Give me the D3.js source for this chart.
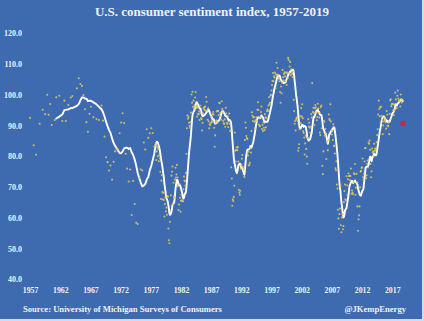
<!DOCTYPE html>
<html>
<head>
<meta charset="utf-8">
<script src="https://cdn.jsdelivr.net/npm/d3@7/dist/d3.min.js"></script>
<style>
  html, body { margin: 0; padding: 0; background: #d6dae2; }
  svg { display: block; }
  text { font-family: "Liberation Serif", "DejaVu Serif", serif; font-weight: bold; fill: #f1f1f1; }
</style>
</head>
<body>
<svg id="chart" width="424" height="321"></svg>
<script>
// University of Michigan index of consumer sentiment.
// Before 1978 the survey was run a few times a year; from 1978 it is monthly.
const surveyMonths1957_1977 = [
  "1957-04","1957-11","1958-04","1958-11","1959-05","1959-10","1960-02","1960-05","1960-08","1960-11",
  "1961-05","1961-08","1962-02","1962-08","1962-12","1963-03","1963-08","1964-01","1964-04",
  "1965-01","1965-05","1965-08","1965-11","1966-02","1966-05","1966-08","1966-11",
  "1967-02","1967-05","1967-10","1968-04","1968-09",
  "1969-02","1969-05","1969-08","1969-11","1970-02","1970-05","1970-08","1970-11",
  "1971-02","1971-05","1971-08","1971-11","1972-02","1972-05","1972-08","1972-11",
  "1973-02","1973-05","1973-08","1973-11","1974-02","1974-05","1974-08","1974-11",
  "1975-02","1975-05","1975-08","1975-11","1976-02","1976-05","1976-08","1976-11",
  "1977-02","1977-05","1977-08","1977-11"
];
const survey1957_1977 = [
  92.5, 83.6, 80.5, 90.6, 95.1, 93.7, 100.0, 93.5, 97.0, 90.2,
  91.8, 99.2, 99.7, 91.5, 98.1, 91.5, 96.7, 99.1, 99.6,
  102.1, 105.4, 103.5, 102.9, 99.9, 95.3, 91.1, 88.0,
  93.8, 96.1, 92.7, 92.1, 91.8,
  96.5, 91.6, 86.4, 79.7, 78.1, 75.4, 77.0, 72.4,
  78.2, 81.6, 82.4, 82.2, 87.5, 91.0, 94.0, 90.8,
  80.8, 76.0, 71.8, 75.7, 60.9, 72.0, 64.5, 58.4,
  58.0, 72.9, 75.8, 75.4, 84.5, 82.2, 88.8, 86.0,
  87.5, 89.1, 87.6, 83.1
];

// Monthly readings, January 1978 onwards
const monthlyStart = "1978-01";
const monthly1978_1989 = [
  83.7, 84.3, 78.8, 81.6, 82.9, 80.0, 82.4, 78.4, 80.4, 79.3, 75.0, 66.1,
  72.1, 73.9, 68.4, 66.0, 68.1, 65.8, 60.4, 64.5, 66.7, 62.1, 63.3, 61.0,
  67.0, 66.9, 56.5, 52.7, 51.7, 58.7, 62.3, 67.3, 73.7, 75.0, 76.7, 64.5,
  71.4, 66.9, 66.5, 72.4, 76.3, 73.1, 74.1, 77.2, 73.1, 70.3, 62.5, 64.3,
  71.0, 66.5, 62.0, 65.5, 67.5, 65.7, 65.4, 65.4, 69.3, 73.4, 72.1, 71.9,
  70.4, 74.6, 80.8, 89.1, 93.3, 92.2, 92.8, 90.9, 89.9, 89.3, 91.1, 94.2,
  100.1, 97.4, 101.0, 96.1, 98.1, 95.5, 96.6, 99.1, 100.9, 96.3, 95.7, 92.9,
  96.0, 93.7, 93.7, 94.6, 91.8, 96.5, 94.0, 92.4, 92.1, 88.4, 90.9, 93.9,
  95.6, 95.9, 95.1, 96.2, 94.8, 99.3, 97.7, 94.9, 91.9, 95.6, 91.4, 89.1,
  90.4, 90.2, 90.8, 92.8, 91.1, 91.5, 93.7, 94.4, 93.6, 89.3, 83.1, 86.8,
  90.8, 91.6, 94.6, 91.2, 94.8, 94.7, 93.4, 97.4, 97.3, 94.1, 93.0, 91.9,
  97.9, 95.4, 94.3, 91.5, 90.7, 90.6, 92.0, 89.6, 95.8, 93.9, 90.9, 90.5
];
const monthly1990_1999 = [
  93.0, 89.5, 91.3, 93.9, 90.6, 88.3, 88.2, 76.4, 72.8, 63.9, 66.0, 65.5,
  66.8, 70.4, 87.7, 81.8, 78.3, 82.1, 82.9, 82.0, 83.0, 78.3, 69.1, 68.2,
  67.5, 68.8, 76.0, 77.2, 79.2, 80.4, 76.6, 76.1, 75.6, 73.3, 85.3, 91.0,
  89.3, 86.6, 85.9, 85.6, 80.3, 81.5, 77.0, 77.3, 77.9, 82.7, 81.2, 88.2,
  94.3, 93.2, 91.5, 92.6, 92.8, 91.2, 89.0, 91.7, 91.5, 92.7, 91.6, 95.1,
  97.6, 95.1, 90.3, 92.5, 89.8, 92.7, 94.4, 96.2, 88.9, 90.2, 88.2, 91.0,
  89.3, 88.5, 93.7, 92.7, 89.4, 92.4, 94.7, 95.3, 94.7, 96.5, 99.2, 96.9,
  97.4, 99.7, 100.0, 101.4, 103.2, 104.5, 107.1, 104.4, 106.0, 105.6, 107.2, 102.1,
  106.6, 110.4, 106.5, 108.7, 106.5, 105.6, 105.2, 104.4, 100.9, 97.4, 102.7, 100.5,
  103.9, 108.1, 105.7, 104.6, 106.8, 107.3, 106.0, 104.5, 107.2, 103.2, 107.2, 105.4
];
const monthly2000_2009 = [
  112.0, 111.3, 107.1, 109.2, 110.7, 106.4, 108.3, 107.3, 106.8, 105.8, 107.6, 98.4,
  94.7, 90.6, 91.5, 88.4, 92.0, 92.6, 92.4, 91.5, 81.8, 82.7, 83.9, 88.8,
  93.0, 90.7, 95.7, 93.0, 96.9, 92.4, 88.1, 87.6, 86.1, 80.6, 84.2, 86.7,
  82.4, 79.9, 77.6, 86.0, 92.1, 89.7, 90.9, 89.3, 87.7, 89.6, 93.7, 92.6,
  103.8, 94.4, 95.8, 94.2, 90.2, 95.6, 96.7, 95.9, 94.2, 91.7, 92.8, 97.1,
  95.5, 94.1, 92.6, 87.7, 86.9, 96.0, 96.5, 89.1, 76.9, 74.2, 81.6, 91.5,
  91.2, 86.7, 88.9, 87.4, 79.1, 84.9, 84.7, 82.0, 85.4, 93.6, 92.1, 91.7,
  96.9, 91.3, 88.4, 87.1, 88.3, 85.3, 90.4, 83.4, 83.4, 80.9, 76.1, 75.5,
  78.4, 70.8, 69.5, 62.6, 59.8, 56.4, 61.2, 63.0, 70.3, 57.6, 55.3, 60.1,
  61.2, 56.3, 57.3, 65.1, 68.7, 70.8, 66.0, 65.7, 73.5, 70.6, 67.4, 72.5
];
const monthly2010_2018 = [
  74.4, 73.6, 73.6, 72.2, 73.6, 76.0, 67.8, 68.9, 68.2, 67.7, 71.6, 74.5,
  74.2, 77.5, 67.5, 69.8, 74.3, 71.5, 63.7, 55.8, 59.5, 60.8, 63.7, 69.9,
  75.0, 75.3, 76.2, 76.4, 79.3, 73.2, 72.3, 74.3, 78.3, 82.6, 82.7, 72.9,
  73.8, 77.6, 78.6, 76.4, 84.5, 84.1, 85.1, 82.1, 77.5, 73.2, 75.1, 82.5,
  81.2, 81.6, 80.0, 84.1, 81.9, 82.5, 81.8, 82.5, 84.6, 86.9, 88.8, 93.6,
  98.1, 95.4, 93.0, 95.9, 90.7, 96.1, 93.1, 91.9, 87.2, 90.0, 91.3, 92.6,
  92.0, 91.7, 91.0, 89.0, 94.7, 93.5, 90.0, 89.8, 91.2, 87.2, 93.8, 98.2,
  98.5, 96.3, 96.9, 97.0, 97.1, 95.0, 93.4, 96.8, 95.1, 100.7, 98.5, 95.9,
  95.7, 99.7, 101.4, 98.8, 98.0, 98.2, 97.9, 96.2, 100.1, 98.6, 97.5, 98.3
];

// Latest (preliminary) reading, highlighted
const latestMonth = "2019-01";
const latestValue = 90.7;

const yTicks = [40, 50, 60, 70, 80, 90, 100, 110, 120];
const xTickYears = [1957, 1962, 1967, 1972, 1977, 1982, 1987, 1992, 1997, 2002, 2007, 2012, 2017];

const titleText = "U.S. consumer sentiment index, 1957-2019";
const sourceText = "Source: University of Michigan Surveys of Consumers";
const creditText = "@JKempEnergy";

// ---- assemble observations ----
const parseMonth = d3.timeParse("%Y-%m");
const early = surveyMonths1957_1977.map((m, i) => ({ date: parseMonth(m), value: survey1957_1977[i] }));
const monthlyValues = [].concat(monthly1978_1989, monthly1990_1999, monthly2000_2009, monthly2010_2018);
const start = parseMonth(monthlyStart);
const monthly = monthlyValues.map((v, i) => ({ date: d3.timeMonth.offset(start, i), value: v }));
const latest = { date: parseMonth(latestMonth), value: latestValue };
const observations = early.concat(monthly);
const allObs = observations.concat([latest]);

// trailing average over the last 12 surveys
const WINDOW = 12;
const smoothed = [];
for (let i = WINDOW - 1; i < allObs.length; i++) {
  smoothed.push({ date: allObs[i].date, value: d3.mean(allObs.slice(i - WINDOW + 1, i + 1), d => d.value) });
}

// ---- drawing ----
const W = 424, H = 321;
const svg = d3.select("#chart");

svg.append("rect").attr("x", 0).attr("y", 0).attr("width", W - 2).attr("height", H - 2).attr("fill", "#3e6aaf");

const x = d3.scaleTime()
  .domain([new Date(1957, 0, 1), new Date(2019, 0, 1)])
  .range([28.6, 402.8]);
const y = d3.scaleLinear().domain([40, 120]).range([279.3, 33.3]);

// title
svg.append("text")
  .attr("x", 212).attr("y", 15.5)
  .attr("text-anchor", "middle")
  .style("font-size", "13px")
  .text(titleText);

// y axis labels
const yAxis = d3.axisLeft(y).tickValues(yTicks).tickFormat(d3.format(".1f")).tickSize(0).tickPadding(0);
const gy = svg.append("g").attr("transform", "translate(22,0)").call(yAxis);
gy.select(".domain").remove();
gy.selectAll("text").style("font-size", "8px").attr("fill", "#f1f1f1");

// x axis labels
const xAxis = d3.axisBottom(x)
  .tickValues(xTickYears.map(yr => new Date(yr, 0, 1)))
  .tickFormat(d3.timeFormat("%Y")).tickSize(0).tickPadding(0);
const gx = svg.append("g").attr("transform", "translate(0,287.3)").call(xAxis);
gx.select(".domain").remove();
gx.selectAll("text").style("font-size", "7.8px").attr("x", 1.5).attr("fill", "#f1f1f1");

// smoothed line
const line = d3.line().x(d => x(d.date)).y(d => y(d.value));
svg.append("path")
  .datum(smoothed)
  .attr("d", line)
  .attr("fill", "none")
  .attr("stroke", "#ffffff")
  .attr("stroke-width", 1.9)
  .attr("stroke-linejoin", "round")
  .attr("stroke-linecap", "round");

// individual survey readings
svg.append("g")
  .selectAll("circle")
  .data(observations)
  .join("circle")
  .attr("cx", d => x(d.date))
  .attr("cy", d => y(d.value))
  .attr("r", 1.05)
  .attr("fill", "#e2c95c")
  .attr("fill-opacity", 0.85);

// latest reading
svg.append("rect")
  .attr("x", x(latest.date) - 2.5)
  .attr("y", y(latest.value) - 2.5)
  .attr("width", 5).attr("height", 5)
  .attr("fill", "#c42a3c");

// footer
svg.append("text")
  .attr("x", 23).attr("y", 312.3)
  .style("font-size", "8.6px")
  .text(sourceText);
svg.append("text")
  .attr("x", 406).attr("y", 312.3)
  .attr("text-anchor", "end")
  .style("font-size", "8.6px")
  .text(creditText);
</script>
</body>
</html>
